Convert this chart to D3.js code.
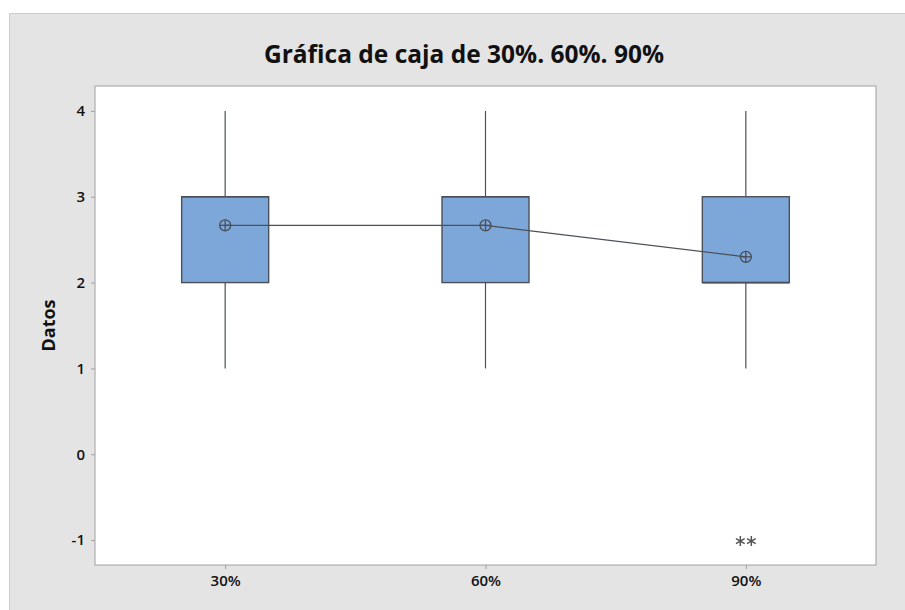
<!DOCTYPE html>
<html>
<head>
<meta charset="utf-8">
<script src="https://cdn.jsdelivr.net/npm/d3@7"></script>
<style>
  html, body { margin: 0; padding: 0; background: #ffffff; }
  svg { display: block; font-family: "Open Sans", "Noto Sans", sans-serif; }
</style>
</head>
<body>
<div id="chart"></div>
<script>
// Box plot summary per group
const categories = ["30%", "60%", "90%"];
const q1Values = [2, 2, 2];
const q3Values = [3, 3, 3];
const medianValues = [3, 3, 2];
const whiskerLow = [1, 1, 1];
const whiskerHigh = [4, 4, 4];
const meanValues = [2.667, 2.667, 2.3];
// Outliers: [category, value]; tied values are offset side by side
const outliers = [["90%", -1], ["90%", -1]];
const yTicks = [-1, 0, 1, 2, 3, 4];

const W = 905, H = 610;
const plot = { left: 95, right: 876, top: 86, bottom: 565 };

const svg = d3.select("#chart").append("svg")
  .attr("width", W).attr("height", H);

// Gray frame background
svg.append("rect").attr("x", 9.5).attr("y", 13.5).attr("width", W).attr("height", H)
  .attr("fill", "#e4e4e4").attr("stroke", "#cdcdcd").attr("stroke-width", 1);

// Data region
svg.append("rect").attr("x", plot.left).attr("y", plot.top)
  .attr("width", plot.right - plot.left).attr("height", plot.bottom - plot.top)
  .attr("fill", "#ffffff").attr("stroke", "#a0a0a0").attr("stroke-width", 1);

const x = d3.scalePoint().domain(categories).range([plot.left, plot.right]).padding(0.5);
const y = d3.scaleLinear().domain([-1.29, 4.29]).range([plot.bottom, plot.top]);

// Axes
const yAxis = svg.append("g").attr("transform", `translate(${plot.left},0)`)
  .call(d3.axisLeft(y).tickValues(yTicks).tickFormat(d => d < 0 ? "-" + Math.abs(d) : d).tickSize(4).tickPadding(6));
const xAxis = svg.append("g").attr("transform", `translate(0,${plot.bottom})`)
  .call(d3.axisBottom(x).tickSize(4).tickPadding(6));
[yAxis, xAxis].forEach(g => {
  g.attr("font-size", null);
  g.select(".domain").remove();
  g.selectAll(".tick line").attr("stroke", "#a0a0a0");
  g.selectAll(".tick text").attr("fill", "#111").style("font-size", "15px")
    .style("font-family", "'Open Sans', 'Noto Sans', sans-serif").style("font-weight", 600);
});

const boxW = 87;
const groups = categories.map((c, i) => ({
  c, q1: q1Values[i], q3: q3Values[i], med: medianValues[i],
  lo: whiskerLow[i], hi: whiskerHigh[i], mean: meanValues[i]
}));

const stroke = "#4a5059";
// Whiskers
groups.forEach(d => {
  svg.append("line").attr("x1", x(d.c)).attr("x2", x(d.c))
    .attr("y1", y(d.hi)).attr("y2", y(d.q3)).attr("stroke", stroke).attr("stroke-width", 1.2);
  svg.append("line").attr("x1", x(d.c)).attr("x2", x(d.c))
    .attr("y1", y(d.q1)).attr("y2", y(d.lo)).attr("stroke", stroke).attr("stroke-width", 1.2);
});
// Boxes
svg.selectAll("rect.box").data(groups).join("rect").attr("class", "box")
  .attr("x", d => x(d.c) - boxW / 2).attr("width", boxW)
  .attr("y", d => y(d.q3)).attr("height", d => y(d.q1) - y(d.q3))
  .attr("fill", "#7da7d9").attr("stroke", stroke).attr("stroke-width", 1.4);
// Medians
svg.selectAll("line.med").data(groups).join("line").attr("class", "med")
  .attr("x1", d => x(d.c) - boxW / 2).attr("x2", d => x(d.c) + boxW / 2)
  .attr("y1", d => y(d.med)).attr("y2", d => y(d.med))
  .attr("stroke", stroke).attr("stroke-width", 1.6);

// Mean connect line
svg.append("path").datum(groups)
  .attr("d", d3.line().x(d => x(d.c)).y(d => y(d.mean)))
  .attr("fill", "none").attr("stroke", stroke).attr("stroke-width", 1.2);

// Mean symbols: circle with cross
const r = 5.5;
groups.forEach(d => {
  const g = svg.append("g").attr("transform", `translate(${x(d.c)},${y(d.mean)})`);
  g.append("circle").attr("r", r).attr("fill", "none").attr("stroke", stroke).attr("stroke-width", 1.3);
  g.append("line").attr("x1", -r).attr("x2", r).attr("stroke", stroke).attr("stroke-width", 1.3);
  g.append("line").attr("y1", -r).attr("y2", r).attr("stroke", stroke).attr("stroke-width", 1.3);
});

// Outliers
const seen = {};
outliers.forEach(([c, v]) => {
  const key = c + v;
  const k = seen[key] = (seen[key] || 0) + 1;
  const off = (k - 1.5) * 11;
  svg.append("path")
    .attr("transform", `translate(${x(c) + off},${y(v) + 1})`)
    .attr("d", d3.symbol().type(d3.symbolAsterisk).size(70)())
    .attr("fill", "none").attr("stroke", "#555").attr("stroke-width", 1.5);
});

// Title and axis label
svg.append("text").attr("x", 464).attr("y", 63).attr("text-anchor", "middle")
  .style("font-size", "24.5px").style("font-weight", 700).attr("fill", "#111")
  .text("Gráfica de caja de 30%. 60%. 90%");
svg.append("text").attr("transform", `translate(55,${(plot.top + plot.bottom) / 2}) rotate(-90)`)
  .attr("text-anchor", "middle").style("font-size", "18px").style("font-weight", 700).attr("fill", "#111")
  .text("Datos");
</script>
</body>
</html>
